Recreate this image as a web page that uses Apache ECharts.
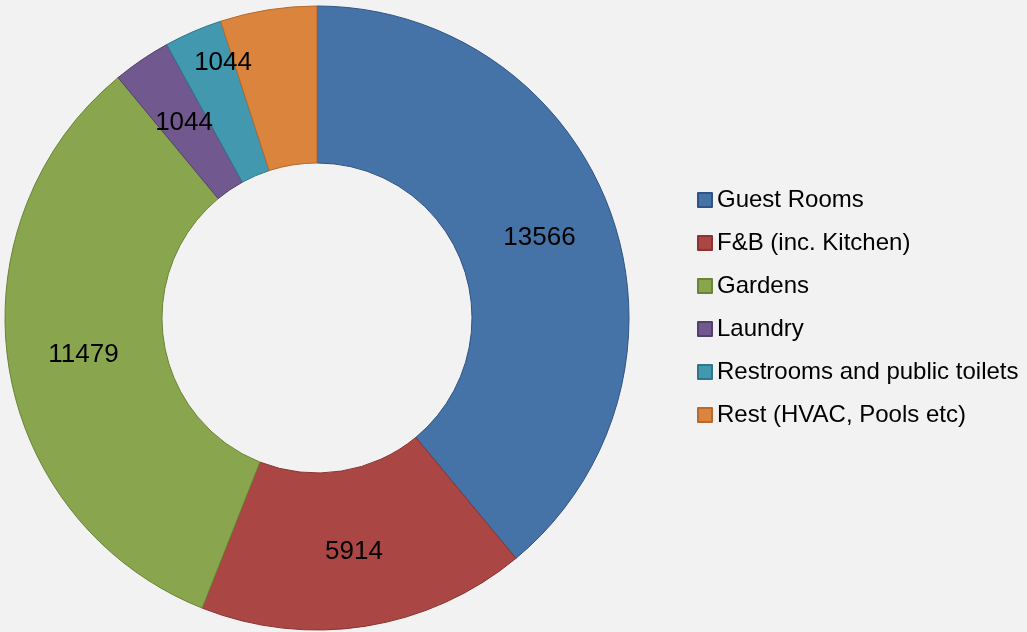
<!DOCTYPE html>
<html>
<head>
<meta charset="utf-8">
<script src="https://cdn.jsdelivr.net/npm/echarts@6/dist/echarts.min.js"></script>
<style>
  html, body { margin: 0; padding: 0; background: #f2f2f2; }
  #main { width: 1027px; height: 632px; }
</style>
</head>
<body>
<div id="main"></div>
<script>
var categories = ['Guest Rooms', 'F&B (inc. Kitchen)', 'Gardens', 'Laundry', 'Restrooms and public toilets', 'Rest (HVAC, Pools etc)'];
var values = [13566, 5914, 11479, 1044, 1044, 1739];
var fills = ['#4572a7', '#aa4643', '#89a54e', '#71588f', '#4198af', '#db843d'];
var borders = ['#2f5485', '#8a3330', '#6a8436', '#54406e', '#2e7789', '#b8692b'];

var seriesData = [];
for (var i = 0; i < values.length; i++) {
    var item = {
        name: categories[i],
        value: values[i],
        itemStyle: { color: fills[i], borderColor: borders[i], borderWidth: 1 }
    };
    // excel nudged this label up so it doesn't hit the neighbours
    if (i == 4) item.label = { offset: [0, -38] };
    seriesData.push(item);
}

var myChart = echarts.init(document.getElementById('main'));
var option = {
    backgroundColor: '#f2f2f2',
    animation: false,
    textStyle: { fontFamily: 'Liberation Sans, Arial, sans-serif' },
    legend: {
        orient: 'vertical',
        left: 692,
        top: 183,
        icon: 'rect',
        itemWidth: 14,
        itemHeight: 14,
        itemGap: 19,
        textStyle: { fontSize: 24, color: '#000', lineHeight: 24 },
        data: categories
    },
    series: [
        {
            type: 'pie',
            center: [317, 318],
            radius: [155, 312],
            startAngle: 90,
            clockwise: true,
            label: {
                show: true,
                position: 'inside',
                color: '#000',
                fontSize: 26,
                formatter: '{c}',
                textBorderWidth: 0
            },
            labelLine: { show: false },
            emphasis: { disabled: true },
            data: seriesData
        }
    ]
};
myChart.setOption(option);
</script>
</body>
</html>
